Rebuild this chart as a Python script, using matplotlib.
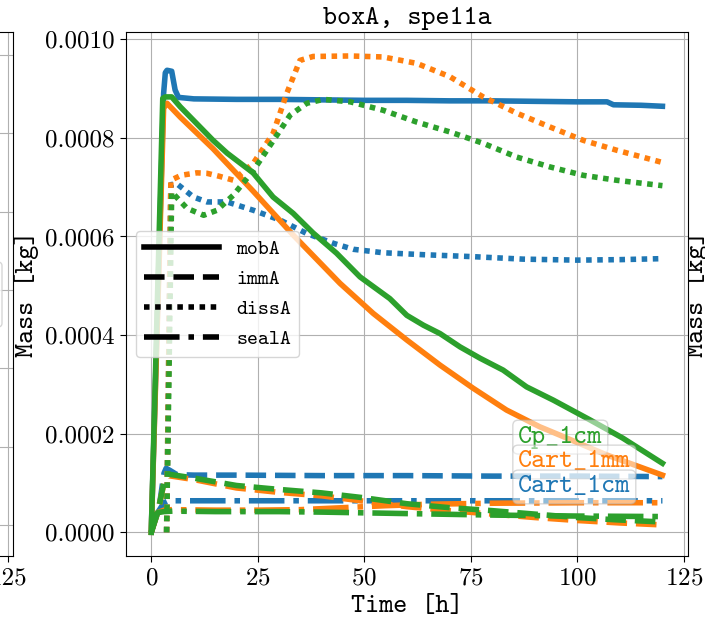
import os
import matplotlib
matplotlib.use("Agg")
import matplotlib.pyplot as plt
from matplotlib import font_manager
from matplotlib.lines import Line2D
from matplotlib.patches import FancyBboxPatch
from matplotlib.ticker import FormatStrFormatter, MultipleLocator

# computer modern fonts shipped with matplotlib
ttf_dir = os.path.join(matplotlib.get_data_path(), "fonts", "ttf")
for f in ["cmr10.ttf", "cmtt10.ttf"]:
    font_manager.fontManager.addfont(os.path.join(ttf_dir, f))
plt.rcParams["font.family"] = ["cmr10", "DejaVu Serif"]
plt.rcParams["mathtext.fontset"] = "cm"
plt.rcParams["axes.formatter.use_mathtext"] = True

TT = ["cmtt10", "DejaVu Sans Mono"]
FS = 19.3
TICK_FS = 18
LW = 4

cases = ["Cart_1cm", "Cart_1mm", "Cp_1cm"]
case_colors = ["tab:blue", "tab:orange", "tab:green"]

# Cart_1cm
t_mob_c1 = [0, 2.9, 3.3, 3.7, 4.8, 5.6, 6.4, 10, 20, 30, 40, 50, 60, 70, 80, 90, 100, 107, 108.5, 115, 120]
mob_c1 = [0, 0.00089, 0.000932, 0.000937, 0.000935, 0.000897, 0.000882, 0.000879, 0.000878, 0.000878,
          0.000877, 0.000876, 0.000876, 0.000875, 0.000875, 0.000874, 0.000873, 0.000873, 0.000867,
          0.000866, 0.000864]
t_imm_c1 = [0, 2, 3, 3.5, 4.5, 6, 10, 20, 40, 60, 80, 100, 120]
imm_c1 = [0, 0.00006, 0.00012, 0.00013, 0.000125, 0.000117, 0.000116, 0.000116, 0.000115, 0.000115,
          0.000114, 0.000114, 0.000113]
t_diss_c1 = [3.6, 4.6, 6, 9.9, 13.1, 17.8, 24, 30.3, 36.5, 42.8, 47.4, 54.4, 63.9, 75.6, 87.3, 100, 110, 120]
diss_c1 = [0, 0.000705, 0.000707, 0.00068, 0.00067, 0.00067, 0.000653, 0.000633, 0.000606, 0.000586,
           0.000574, 0.000567, 0.000563, 0.000559, 0.000554, 0.000552, 0.000553, 0.000555]
t_seal_c1 = [0, 1.5, 3, 4, 10, 30, 60, 90, 120]
seal_c1 = [0, 0.00004, 0.00006, 0.000064, 0.000064, 0.000064, 0.000064, 0.000064, 0.000064]

# Cart_1mm
t_mob_c2 = [0, 2.9, 3.7, 6.8, 14.5, 23.9, 33.3, 44.3, 52.1, 60, 67.8, 75.6, 83.4, 91.2, 95.1, 106.9, 120]
mob_c2 = [0, 0.00086, 0.00087, 0.000842, 0.000778, 0.000692, 0.000603, 0.000505, 0.000444, 0.00039,
          0.000339, 0.000292, 0.000248, 0.000214, 0.0002, 0.000157, 0.000116]
t_imm_c2 = [0, 2, 3, 4, 10, 20, 30, 40, 50, 60, 70, 80, 90, 100, 110, 120]
imm_c2 = [0, 0.00006, 0.0001, 0.000115, 0.000107, 0.00009, 0.000081, 0.000074, 0.000063, 0.000052,
          0.000044, 0.000037, 0.00003, 0.000024, 0.000019, 0.000015]
t_diss_c2 = [3.6, 4.6, 7, 10.7, 13.1, 16, 19.3, 24, 28.6, 31.8, 34.9, 38, 46.7, 54.4, 62.3, 70.1, 77.9,
             85.8, 93.6, 101.4, 109.2, 120]
diss_c2 = [0, 0.000714, 0.000724, 0.000729, 0.000728, 0.000722, 0.000714, 0.000749, 0.000809, 0.00089,
           0.000957, 0.000965, 0.000966, 0.000964, 0.000951, 0.000924, 0.000883, 0.00085, 0.000822,
           0.000795, 0.000775, 0.00075]
t_seal_c2 = [0, 1.5, 3, 5, 15, 25, 35, 45, 55, 65, 80, 100, 120]
seal_c2 = [0, 0.00004, 0.000045, 0.000046, 0.000045, 0.000045, 0.000046, 0.00005, 0.000054, 0.000057,
           0.000059, 0.00006, 0.00006]

# Cp_1cm
t_mob_c3 = [0, 2.7, 3.3, 4.8, 6.8, 14.5, 17.8, 23.9, 28.6, 33.3, 38, 43.5, 49, 56, 60, 63.9, 67.8, 72.5,
            77.2, 82.6, 88.1, 94.4, 100.2, 103, 110.7, 120]
mob_c3 = [0, 0.00088, 0.000883, 0.000883, 0.000863, 0.000795, 0.000769, 0.000729, 0.00068, 0.000647,
          0.000607, 0.000566, 0.000518, 0.000474, 0.00044, 0.00042, 0.000403, 0.000376, 0.000353,
          0.000329, 0.000295, 0.000268, 0.000241, 0.000228, 0.000191, 0.00014]
t_imm_c3 = [0, 2, 3, 4, 10, 20, 30, 40, 50, 60, 70, 80, 90, 100, 110, 120]
imm_c3 = [0, 0.00006, 0.000102, 0.000118, 0.00011, 0.000095, 0.000087, 0.00008, 0.00007, 0.000058,
          0.00005, 0.000044, 0.000037, 0.00003, 0.000025, 0.000021]
t_diss_c3 = [3.6, 4.8, 8.4, 12.3, 15.4, 19.3, 24, 28.7, 32.6, 36.5, 40.4, 46.7, 54.4, 62.3, 70.1, 77.9,
             85.8, 93.6, 101.4, 109.2, 120]
diss_c3 = [0, 0.00069, 0.000657, 0.000643, 0.000653, 0.000684, 0.000734, 0.000795, 0.000846, 0.00087,
           0.000878, 0.000873, 0.000856, 0.000832, 0.000812, 0.000789, 0.000761, 0.000741, 0.000724,
           0.000714, 0.000703]
t_seal_c3 = [0, 1.5, 3, 5, 15, 30, 40, 60, 80, 100, 120]
seal_c3 = [0, 0.00004, 0.000042, 0.000043, 0.000042, 0.000042, 0.000041, 0.000038, 0.000035, 0.000033,
           0.000032]

quantities = ["mobA", "immA", "dissA", "sealA"]
styles = ["-", "--", (0, (1, 1)), "-."]

data = [
    [(t_mob_c1, mob_c1), (t_imm_c1, imm_c1), (t_diss_c1, diss_c1), (t_seal_c1, seal_c1)],
    [(t_mob_c2, mob_c2), (t_imm_c2, imm_c2), (t_diss_c2, diss_c2), (t_seal_c2, seal_c2)],
    [(t_mob_c3, mob_c3), (t_imm_c3, imm_c3), (t_diss_c3, diss_c3), (t_seal_c3, seal_c3)],
]

W, H = 705, 620
fig = plt.figure(figsize=(W / 100, H / 100), dpi=100)
ax_w, ax_h, ax_b = 562.3 / W, 523.7 / H, 64 / H


def setup(ax):
    ax.set_xlim(-6, 126)
    ax.xaxis.set_major_locator(MultipleLocator(25))
    ax.tick_params(labelsize=TICK_FS, length=4.5)
    ax.grid(True)


# neighbouring panel on the left, only its right edge falls inside the picture
ax_l = fig.add_axes([(12.7 - 562.3) / W, ax_b, ax_w, ax_h])
setup(ax_l)
ax_l.set_ylim(-0.396, 6.29)
ax_l.set_yticks(range(7))
ax_l.set_yticklabels([])
ax_l.set_xticks([0, 25, 50, 75, 100, 125])
ax_l.set_xticklabels(["", "", "", "", "", "125"])
# edge of that panel's legend frame
fig.patches.append(FancyBboxPatch((-140 / W, 293 / H), 142 / W, 65 / H,
                                  boxstyle="round,pad=0,rounding_size=0.006",
                                  transform=fig.transFigure, fc="white", ec="0.8",
                                  alpha=0.8, lw=1, zorder=5))

# neighbouring panel on the right, only its y label shows
ax_r = fig.add_axes([799.4 / W, ax_b, ax_w, ax_h])
setup(ax_r)
ax_r.set_xticklabels([])
ax_r.set_yticklabels([])
ax_r.set_ylabel("Mass [kg]", family=TT, fontsize=FS)
ax_r.yaxis.set_label_coords(-0.161, 0.5)

# main panel
ax = fig.add_axes([125.7 / W, ax_b, ax_w, ax_h])
setup(ax)
ax.set_ylim(-0.000048, 0.001014)
ax.yaxis.set_major_locator(MultipleLocator(0.0002))
ax.yaxis.set_major_formatter(FormatStrFormatter("%.4f"))
for color, series in zip(case_colors, data):
    for (t, m), ls in zip(series, styles):
        ax.plot(t, m, color=color, ls=ls, lw=LW)

ax.set_title("boxA, spe11a", family=TT, fontsize=FS)
ax.set_xlabel("Time [h]", family=TT, fontsize=FS)
ax.set_ylabel("Mass [kg]", family=TT, fontsize=FS)

handles = [Line2D([], [], color="k", lw=LW, ls=ls) for ls in styles]
ax.legend(handles, quantities, loc="center left", handlelength=3.6,
          prop={"family": TT, "size": 15})

label_y = [0.1318, 0.1795, 0.227]
for name, color, y in list(zip(cases, case_colors, label_y))[::-1]:
    ax.text(0.698, y, name, transform=ax.transAxes, color=color, family=TT, fontsize=FS,
            va="center", ha="left",
            bbox=dict(boxstyle="round,pad=0.2", fc="white", ec="0.7", alpha=0.5))

fig.savefig("out.png", dpi=100)
